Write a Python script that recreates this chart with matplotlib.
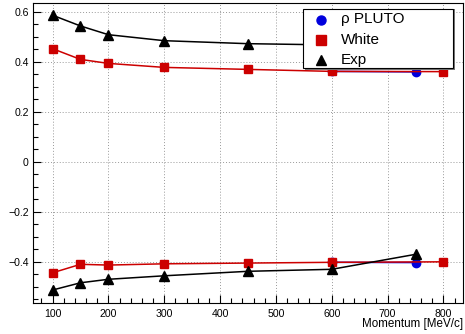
import matplotlib.pyplot as plt
from matplotlib.patches import Rectangle
from matplotlib.lines import Line2D
from matplotlib.ticker import MultipleLocator

plt.rcParams['font.family'] = ['Liberation Sans', 'DejaVu Sans']

# momentum points [MeV/c]
momentum = [100, 150, 200, 300, 450, 600, 800]
white_up = [0.453, 0.410, 0.394, 0.378, 0.370, 0.362, 0.361]
white_lo = [-0.445, -0.411, -0.414, -0.409, -0.406, -0.403, -0.401]

exp_momentum = [100, 150, 200, 300, 450, 600, 750]
exp_up = [0.587, 0.544, 0.509, 0.485, 0.473, 0.468, 0.465]
exp_lo = [-0.514, -0.485, -0.471, -0.457, -0.439, -0.431, -0.371]

pluto_momentum = [600, 750]
pluto_up = [0.362, 0.360]
pluto_lo = [-0.403, -0.404]

W, H = 465, 334
fig = plt.figure(figsize=(W / 100, H / 100), dpi=100)
ax = fig.add_axes([33 / W, (H - 303) / H, 430 / W, 300 / H])

red = '#cc0000'
blue = '#0000dd'

# PLUTO first, then White, then Exp on top
for ys in (pluto_up, pluto_lo):
    ax.plot(pluto_momentum, ys, color=blue, lw=1.1, marker='o', ms=6, zorder=3)
for ys in (white_up, white_lo):
    ax.plot(momentum, ys, color=red, lw=1.1, marker='s', ms=6, zorder=4)
for ys in (exp_up, exp_lo):
    ax.plot(exp_momentum, ys, color='black', lw=1.1, marker='^', ms=6.5, zorder=5)

ax.set_xlim(65, 835)
ax.set_ylim(-0.566, 0.636)
ax.xaxis.set_major_locator(MultipleLocator(100))
ax.xaxis.set_minor_locator(MultipleLocator(20))
ax.yaxis.set_major_locator(MultipleLocator(0.2))
ax.yaxis.set_minor_locator(MultipleLocator(0.05))
ax.yaxis.set_major_formatter(plt.FuncFormatter(
    lambda v, p: '0' if abs(v) < 1e-9 else f'{v:.1f}'.replace('-', '\u2212')))
ax.tick_params(which='both', direction='in', top=False, right=False,
               labelsize=7.6, width=0.8)
ax.tick_params(which='major', length=6)
ax.tick_params(which='minor', length=3.3)
ax.tick_params(axis='x', pad=4)
ax.tick_params(axis='y', pad=3)
ax.grid(True, which='major', color='#999999', ls=(0, (1, 2)), lw=0.7)
for s in ax.spines.values():
    s.set_linewidth(0.8)

fig.text(463 / W, 1 - 324 / H, 'Momentum [MeV/c]', ha='right', va='center',
         fontsize=8.4)

# legend box
def fx(px):
    return px / W

def fy(py):
    return 1 - py / H

fig.patches.append(Rectangle((fx(305), fy(70)), fx(150), 61 / H,
                             transform=fig.transFigure, facecolor='#777777',
                             edgecolor='none', zorder=9))
fig.patches.append(Rectangle((fx(303), fy(68)), fx(150), 59 / H,
                             transform=fig.transFigure, facecolor='white',
                             edgecolor='black', lw=0.8, zorder=10))
entries = [('\u03c1 PLUTO', 'o', blue, 19.5), ('White', 's', red, 39.5),
           ('Exp', '^', 'black', 60)]
for label, mk, col, py in entries:
    fig.add_artist(Line2D([fx(321)], [fy(py)], marker=mk, color=col, ms=6.5,
                          ls='none', transform=fig.transFigure, zorder=11))
    fig.text(fx(341), fy(py), label, ha='left', va='center', fontsize=11,
             zorder=11)

fig.savefig('out.png', dpi=100)
